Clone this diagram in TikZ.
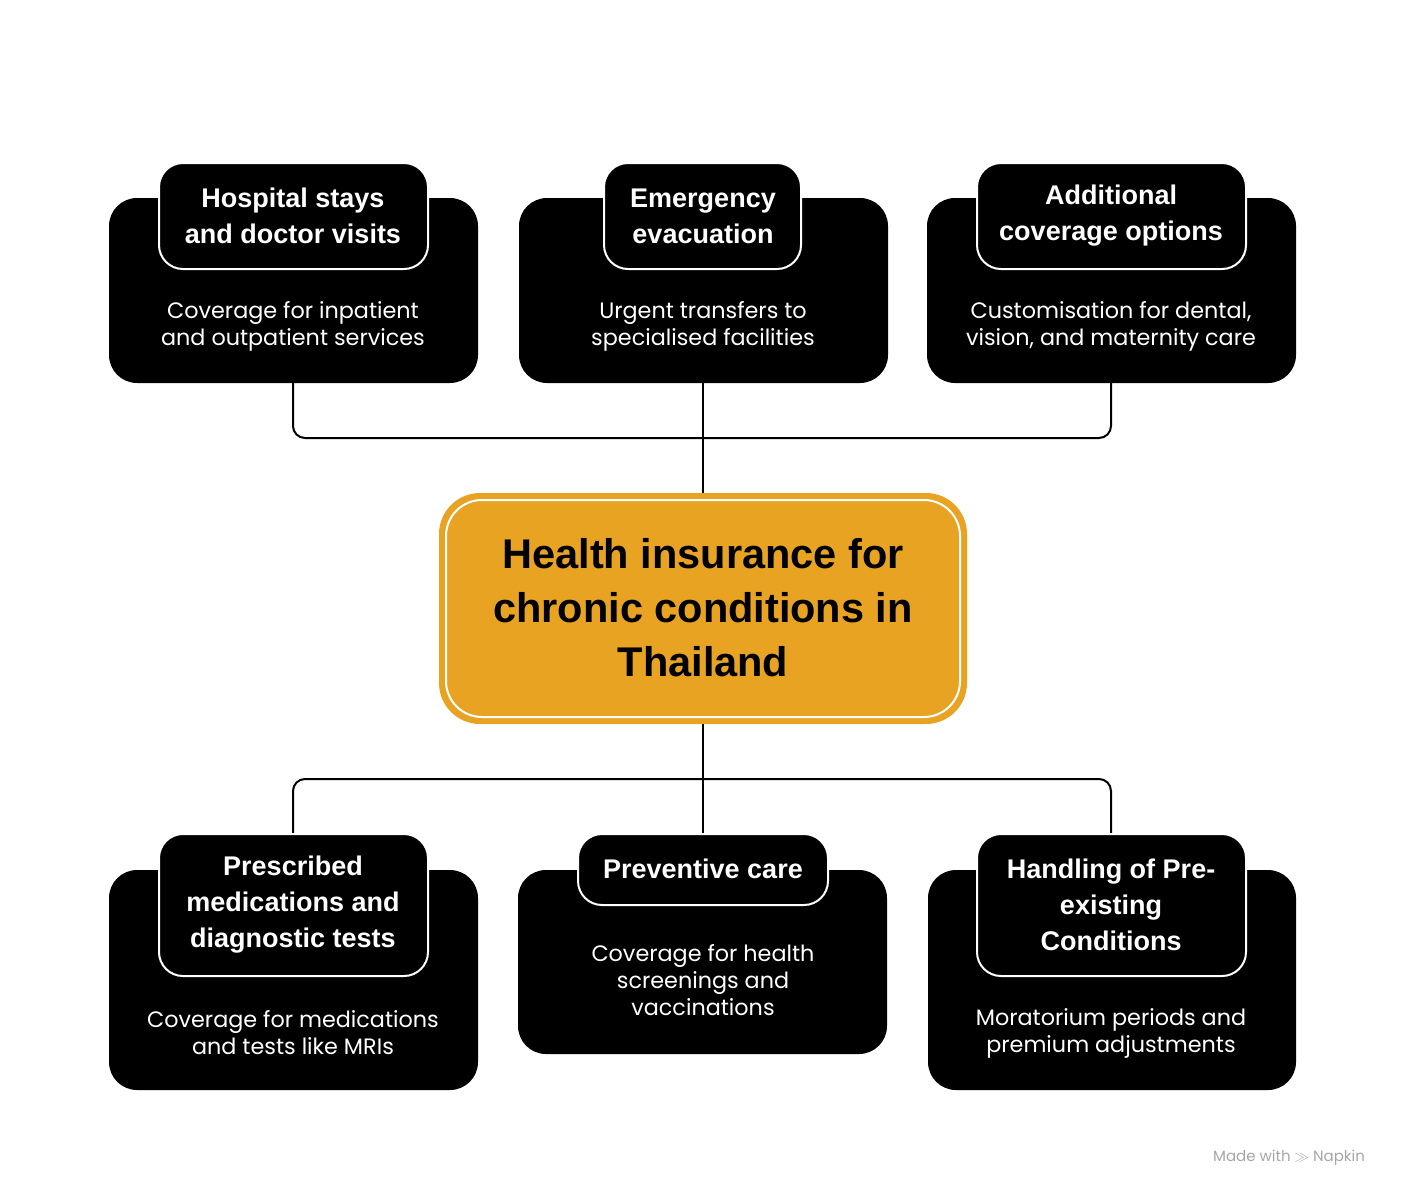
\documentclass[tikz,border=0pt]{standalone}
\usepackage{fontspec}
\setmainfont{Liberation Sans}
\newfontfamily\descfont{Poppins}
\definecolor{gold}{HTML}{E8A323}
\begin{document}
\begin{tikzpicture}[x=1pt,y=-1pt,
  card/.style={fill=black,rounded corners=28pt},
  tab/.style={fill=black,draw=white,line width=2pt,rounded corners=24pt},
  ttl/.style={text=white,font=\fontsize{27}{36}\selectfont\bfseries,align=center},
  desc/.style={text=white,font=\descfont\fontsize{22.3}{27}\selectfont,align=center},
  link/.style={line width=2pt,rounded corners=12pt}]
\useasboundingbox (0,0) rectangle (1406,1200);
% connectors
\coordinate (t1) at (293,383); \coordinate (t2) at (703,383); \coordinate (t3) at (1111,383);
\coordinate (b1) at (293,834); \coordinate (b2) at (703,834); \coordinate (b3) at (1111,834);
\draw[link] (t1) -- (293,438) -- (1111,438) -- (t3);
\draw[link] (t2) -- (703,494);
\draw[link] (b1) -- (293,779) -- (1111,779) -- (b3);
\draw[link] (703,723) -- (b2);
% top cards
\foreach \cx/\tl/\tr/\tt/\dd [count=\i] in {
 293/159/428/{Hospital stays\\and doctor visits}/{Coverage for inpatient\\and outpatient services},
 703/604/801/{Emergency\\evacuation}/{Urgent transfers to\\specialised facilities},
 1111/977/1246/{Additional\\coverage options}/{Customisation for dental,\\vision, and maternity care}}{
 \fill[card] (\cx-184,198) rectangle (\cx+185,383);
 \filldraw[tab] (\tl,163) rectangle (\tr,269);
 \node[ttl] (tt\i) at (\cx,216) {\tt};
 \node[desc] (td\i) at (\cx,326) {\dd};
}
% center
\node[fill=gold,draw=gold,line width=2pt,rounded corners=40pt,minimum width=526pt,minimum height=229pt] (c) at (703,608.5) {};
\draw[white,line width=2pt,rounded corners=36pt] (446,500) rectangle (960,717);
\node[font=\fontsize{41.5}{54}\selectfont\bfseries,align=center] (ct) at (703,608) {Health insurance for\\chronic conditions in\\Thailand};
% bottom cards
\fill[card] (109,870) rectangle (478,1090);
\filldraw[tab] (159,834) rectangle (428,976);
\node[ttl] (bt1) at (293,905) {Prescribed\\medications and\\diagnostic tests};
\node[desc] (bd1) at (293,1033) {Coverage for medications\\and tests like MRIs};
\fill[card] (518,870) rectangle (887,1054);
\filldraw[tab] (578,834) rectangle (828,905);
\node[ttl] (bt2) at (703,869) {Preventive care};
\node[desc] (bd2) at (703,980) {Coverage for health\\screenings and\\vaccinations};
\fill[card] (928,870) rectangle (1296,1090);
\filldraw[tab] (977,834) rectangle (1246,976);
\node[ttl] (bt3) at (1111,905) {Handling of Pre-\\existing\\Conditions};
\node[desc] (bd3) at (1111,1033) {Moratorium periods and\\premium adjustments};
\node[text=gray!70,font=\descfont\fontsize{15}{18}\selectfont] (wm) at (1289,1158) {Made with \(\gg\) Napkin};
\end{tikzpicture}
\end{document}
